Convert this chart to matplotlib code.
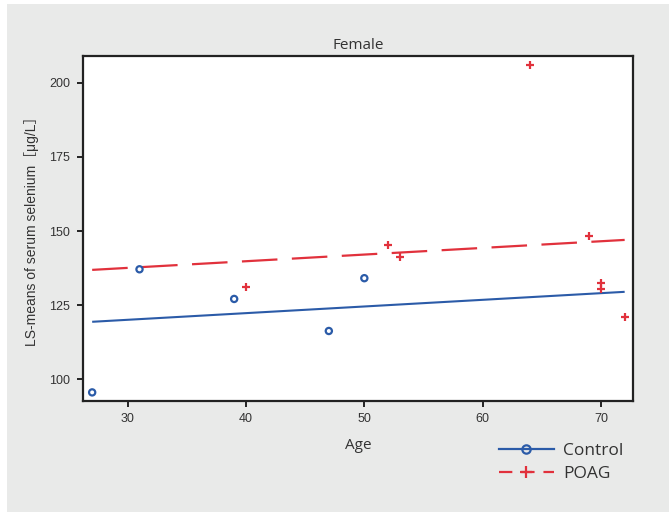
import matplotlib
matplotlib.use("Agg")
import matplotlib.pyplot as plt
import numpy as np
from matplotlib.patches import Rectangle
from matplotlib.lines import Line2D

# Data
control_age = [27, 31, 39, 47, 50]
control_se = [95.6, 137.1, 127.1, 116.3, 134.1]
poag_age = [40, 52, 53, 64, 69, 70, 70, 72]
poag_se = [131.0, 145.3, 141.3, 206.0, 148.3, 132.5, 130.3, 121.1]
fit_age = [27, 72]
control_fit = [119.4, 129.5]
poag_fit = [136.9, 147.0]
xticks = [30, 40, 50, 60, 70]
yticks = [100, 125, 150, 175, 200]

blue = "#2b5ba8"
red = "#e1313c"
gray_bg = "#e9eae9"

W, H = 669, 513
fig = plt.figure(figsize=(W / 100, H / 100), dpi=100, facecolor="white")
fig.patches.append(Rectangle((7 / W, 1 / H), 1 - 7 / W, 1 - 5 / H, transform=fig.transFigure,
                             facecolor=gray_bg, edgecolor="none", zorder=-10))

left, right, top, bottom = 82.7, 633.3, 55.7, 400.7
ax = fig.add_axes([left / W, 1 - bottom / H, (right - left) / W, (bottom - top) / H])
ax.set_facecolor("white")
ax.set_xlim(26.2, 72.73)
ax.set_ylim(92.8, 209.1)

ax.plot(fit_age, control_fit, color=blue, lw=1.5, solid_capstyle="butt")
ax.plot(fit_age, poag_fit, color=red, lw=1.6, dashes=(16, 6.5))
ax.scatter(control_age, control_se, s=20, facecolors="none", edgecolors=blue, linewidths=1.6, zorder=3)
ax.scatter(poag_age, poag_se, s=40, marker="+", color=red, linewidths=1.6, zorder=3)

for s in ax.spines.values():
    s.set_color("#222222")
    s.set_linewidth(1.6)

ax.set_xticks(xticks)
ax.set_yticks(yticks)
tickfont = dict(family=["Liberation Sans Narrow", "Liberation Sans", "DejaVu Sans"], size=9)
ax.set_xticklabels([str(t) for t in xticks], fontdict=tickfont, color="#333333")
ax.set_yticklabels([str(t) for t in yticks], fontdict=tickfont, color="#333333")
ax.tick_params(direction="out", length=4, width=1.4, color="#222222", pad=5)

ax.set_title("Female", fontsize=11, family=["Open Sans", "DejaVu Sans"], color="#333333", pad=5)
ax.set_xlabel("Age", fontsize=11, family=["Open Sans", "DejaVu Sans"], color="#333333", labelpad=9)
ax.set_ylabel("LS-means of serum selenium［μg/L］", fontsize=10,
              family=["Liberation Sans", "Noto Sans CJK JP", "DejaVu Sans"], color="#333333", labelpad=7)

handles = [
    Line2D([0], [0], color=blue, lw=1.6, marker="o", markerfacecolor="none", markeredgecolor=blue,
           markersize=6, markeredgewidth=1.6),
    Line2D([0], [0], color=red, lw=1.6, dashes=(6, 4), marker="+", markersize=9, markeredgewidth=1.6),
]
leg = fig.legend(handles, ["Control", "POAG"], loc="upper left", bbox_to_anchor=(483 / W, 1 - 427 / H),
                 frameon=False, handlelength=3.2, handletextpad=0.5, labelspacing=0.4,
                 prop=dict(family=["Open Sans", "DejaVu Sans"], size=12.5))
for t in leg.get_texts():
    t.set_color("#333333")

fig.savefig("out.png", dpi=100, facecolor=fig.get_facecolor())
